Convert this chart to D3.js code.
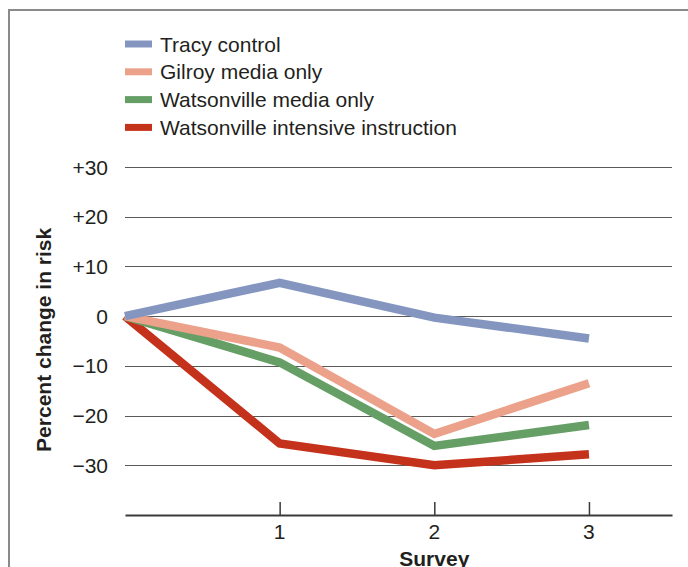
<!DOCTYPE html>
<html>
<head>
<meta charset="utf-8">
<script src="https://cdn.jsdelivr.net/npm/d3@7"></script>
<style>
  html, body { margin: 0; padding: 0; background: #fff; }
  svg { display: block; }
  text { font-family: "Liberation Sans", Arial, Helvetica, sans-serif; fill: #231f20; }
</style>
</head>
<body>
<svg id="chart" width="688" height="567"></svg>
<script>
// ---- Data ----
const surveys = [0, 1, 2, 3];
const xTickValues = [1, 2, 3];
const xTickLabels = ["1", "2", "3"];
const yTickValues = [30, 20, 10, 0, -10, -20, -30];
const yTickLabels = ["+30", "+20", "+10", "0", "\u221210", "\u221220", "\u221230"];
const seriesNames = ["Tracy control", "Gilroy media only", "Watsonville media only", "Watsonville intensive instruction"];
const seriesColors = ["#8496c0", "#eca18b", "#659f65", "#c5321b"];
const tracyValues = [0, 6.7, -0.3, -4.5];
const gilroyValues = [0, -6.3, -23.7, -13.5];
const watsonMediaValues = [0, -9.3, -26.1, -21.9];
const watsonIntensiveValues = [0, -25.6, -30.0, -27.8];
const yAxisTitle = "Percent change in risk";
const xAxisTitle = "Survey";

const seriesValues = [tracyValues, gilroyValues, watsonMediaValues, watsonIntensiveValues];

// ---- Layout ----
const svg = d3.select("#chart");
const x = d3.scaleLinear().domain([0, 3.537]).range([125, 672]);
const y = d3.scaleLinear().domain([-40, 30]).range([515, 167]);
const fontSize = 21;

// Frame (top and left border)
svg.append("path")
  .attr("d", "M9,567 L9,10 L688,10")
  .attr("fill", "none")
  .attr("stroke", "#8a8a8a")
  .attr("stroke-width", 2);

// Gridlines
svg.append("g").selectAll("line")
  .data(yTickValues)
  .join("line")
  .attr("x1", x(0)).attr("x2", x.range()[1])
  .attr("y1", d => Math.round(y(d)) + 0.5).attr("y2", d => Math.round(y(d)) + 0.5)
  .attr("stroke", "#5a5a5a")
  .attr("stroke-width", 1.2);

// Y tick labels
svg.append("g").selectAll("text")
  .data(yTickValues)
  .join("text")
  .attr("x", 108)
  .attr("y", d => y(d))
  .attr("dy", "0.36em")
  .attr("text-anchor", "end")
  .attr("font-size", fontSize)
  .text((d, i) => yTickLabels[i]);

// X axis (baseline with upward ticks)
const xAxis = d3.axisTop(x)
  .tickValues(xTickValues)
  .tickSize(13)
  .tickSizeOuter(0)
  .tickFormat("");
const gx = svg.append("g")
  .attr("transform", `translate(0,${y(-40)})`)
  .call(xAxis);
gx.select(".domain").attr("stroke", "#3a3a3a").attr("stroke-width", 2);
gx.selectAll(".tick line").attr("stroke", "#3a3a3a").attr("stroke-width", 1.5);

// X tick labels
svg.append("g").selectAll("text")
  .data(xTickValues)
  .join("text")
  .attr("x", d => x(d))
  .attr("y", 539)
  .attr("text-anchor", "middle")
  .attr("font-size", fontSize)
  .text((d, i) => xTickLabels[i]);

// Axis titles
svg.append("text")
  .attr("x", x(2))
  .attr("y", 566)
  .attr("text-anchor", "middle")
  .attr("font-size", fontSize)
  .attr("font-weight", "bold")
  .text(xAxisTitle);

svg.append("text")
  .attr("transform", `translate(51,${y(-10) - 26}) rotate(-90)`)
  .attr("text-anchor", "middle")
  .attr("font-size", fontSize)
  .attr("font-weight", "bold")
  .text(yAxisTitle);

// Lines
const line = d3.line()
  .x((d, i) => x(surveys[i]))
  .y(d => y(d));

const order = [3, 2, 1, 0];
svg.append("g").selectAll("path")
  .data(order)
  .join("path")
  .attr("d", k => line(seriesValues[k]))
  .attr("fill", "none")
  .attr("stroke", k => seriesColors[k])
  .attr("stroke-width", 8.5)
  .attr("stroke-linecap", "butt")
  .attr("stroke-linejoin", "miter");

// Legend
const legend = svg.append("g").selectAll("g")
  .data(seriesNames)
  .join("g")
  .attr("transform", (d, i) => `translate(125,${44 + i * 27.8})`);
legend.append("rect")
  .attr("x", 0).attr("y", -3.5)
  .attr("width", 27).attr("height", 7)
  .attr("fill", (d, i) => seriesColors[i]);
legend.append("text")
  .attr("x", 35)
  .attr("y", 0)
  .attr("dy", "0.36em")
  .attr("font-size", fontSize)
  .text(d => d);
</script>
</body>
</html>
